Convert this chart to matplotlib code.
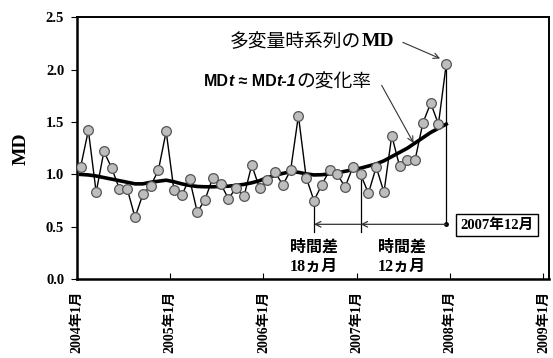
import matplotlib
matplotlib.use('Agg')
from matplotlib import pyplot as plt

#%% Data (monthly, 2004-01 .. 2007-12)
md = [1.07, 1.42, 0.83, 1.22, 1.06, 0.86, 0.86, 0.59, 0.81, 0.89, 1.04, 1.41,
      0.85, 0.80, 0.96, 0.64, 0.76, 0.97, 0.91, 0.77, 0.87, 0.79, 1.09, 0.87,
      0.95, 1.02, 0.90, 1.04, 1.56, 0.97, 0.75, 0.90, 1.04, 1.00, 0.88, 1.07,
      1.00, 0.82, 1.07, 0.83, 1.37, 1.08, 1.14, 1.14, 1.49, 1.68, 1.48, 2.05]
trend = [1.00, 0.995, 0.985, 0.97, 0.955, 0.94, 0.925, 0.91, 0.91, 0.925, 0.935, 0.945,
         0.93, 0.91, 0.895, 0.885, 0.882, 0.882, 0.885, 0.888, 0.895, 0.905, 0.92, 0.94,
         0.97, 0.99, 1.01, 1.025, 1.02, 1.005, 0.995, 0.997, 1.005, 1.015, 1.03, 1.045,
         1.06, 1.08, 1.10, 1.13, 1.17, 1.21, 1.25, 1.30, 1.35, 1.40, 1.44, 1.48]
xtick_labels = ['2004年1月', '2005年1月', '2006年1月', '2007年1月', '2008年1月', '2009年1月']
yticks = [0.0, 0.5, 1.0, 1.5, 2.0, 2.5]
lag_idx = [30, 36, 47]  # months marked with vertical lines

x = [i + 0.5 for i in range(len(md))]

serif_cjk = ['Liberation Serif', 'Noto Sans CJK JP']
cjk = ['Noto Sans CJK JP', 'DejaVu Sans']

#%% Plot
fig = plt.figure(figsize=(5.53, 3.58), dpi=100)
ax = fig.add_axes([0.1387, 0.22, 0.8546, 0.732])

ax.plot(x, trend, c='black', linewidth=2.6, zorder=2)
ax.plot(x, md, c='black', linewidth=1.0, marker='o', markersize=7,
        markerfacecolor='#bdbdbd', markeredgecolor='#555555', markeredgewidth=0.9, zorder=3)

# vertical lag markers and arrows
y_arrow = 0.524
y_low = 0.448
ax.plot([x[lag_idx[0]]] * 2, [md[lag_idx[0]], y_low], c='black', lw=0.9, zorder=1)
ax.plot([x[lag_idx[1]]] * 2, [md[lag_idx[1]], y_low], c='black', lw=0.9, zorder=1)
ax.plot([x[lag_idx[2]]] * 2, [md[lag_idx[2]], y_arrow], c='black', lw=0.9, zorder=1)
ax.plot(x[lag_idx[2]], y_arrow, marker='o', markersize=2.5, c='black')
ax.annotate('', xy=(x[lag_idx[1]], y_arrow), xytext=(x[lag_idx[2]], y_arrow),
            arrowprops=dict(arrowstyle='->', color='#333333', lw=0.9, shrinkA=0, shrinkB=0))
ax.annotate('', xy=(x[lag_idx[0]], y_arrow), xytext=(x[lag_idx[1]], y_arrow),
            arrowprops=dict(arrowstyle='->', color='#333333', lw=0.9, shrinkA=0, shrinkB=0))

# lag texts
for xc, lab in [(x[lag_idx[0]], '18'), ((x[lag_idx[1]] + x[lag_idx[2]]) / 2 - 0.2, '12')]:
    ax.text(xc, 0.31, '時間差', ha='center', va='center', fontsize=11.5,
            fontweight='bold', family=cjk)
    ax.text(xc, 0.12, lab + 'ヵ月', ha='center', va='center', fontsize=11.5,
            fontweight='bold', family=serif_cjk)

# box label
ax.text(54.0, 0.515, '2007年12月', ha='center', va='center', fontsize=10.5,
        fontweight='bold', family=serif_cjk,
        bbox=dict(boxstyle='square,pad=0.3', fc='white', ec='black', lw=1.0))

# annotation 1
t1 = ax.text(19.7, 2.27, '多変量時系列の', ha='left', va='center', fontsize=13.5, family=cjk)
t1b = ax.annotate('MD', xy=(1, 0.5), xycoords=t1, va='center', ha='left',
                  fontsize=14, fontweight='bold', family='Liberation Serif')
ax.annotate('', xy=(x[47] - 0.3, md[47] + 0.04), xytext=(41.6, 2.27),
            arrowprops=dict(arrowstyle='->', color='#333333', lw=0.8, shrinkA=2, shrinkB=3))

# annotation 2
yb = 1.885
fs2 = 11.5
p1 = ax.text(16.3, yb, 'MD', ha='left', va='center', fontsize=fs2, fontweight='bold', family='Liberation Sans')
p2 = ax.annotate('t', xy=(1, 0.5), xycoords=p1, va='center', ha='left', fontsize=fs2,
                 fontweight='bold', style='italic', family='Liberation Sans')
p3 = ax.annotate(' ≈ MD', xy=(1, 0.5), xycoords=p2, va='center', ha='left', fontsize=fs2,
                 fontweight='bold', family='Liberation Sans')
p4 = ax.annotate('t-1', xy=(1, 0.5), xycoords=p3, va='center', ha='left', fontsize=fs2,
                 fontweight='bold', style='italic', family='Liberation Sans')
p5 = ax.annotate('の変化率', xy=(1, 0.5), xycoords=p4, va='center', ha='left', fontsize=13.5,
                 family=cjk)
ax.annotate('', xy=(43.3, 1.30), xytext=(39.2, 1.85),
            arrowprops=dict(arrowstyle='->', color='#333333', lw=0.8, shrinkA=0, shrinkB=0))

#%% Axes style
ax.set_xlim(0, 60.75)
ax.set_ylim(0, 2.5)
ax.set_xticks([0, 12, 24, 36, 48, 60])
ax.set_xticklabels(xtick_labels, rotation=90, fontsize=10, fontweight='bold', family=serif_cjk)
ax.set_yticks(yticks)
ax.set_yticklabels(['%.1f' % v for v in yticks], fontsize=10.5, fontweight='bold',
                   family='Liberation Serif')
ax.tick_params(axis='x', direction='in', length=4, pad=8)
ax.tick_params(axis='y', direction='out', length=4, pad=5)
ax.set_ylabel('MD', fontsize=14, fontweight='bold', family='Liberation Serif', labelpad=12)
for side in ['left', 'bottom']:
    ax.spines[side].set_linewidth(1.8)
for side in ['top', 'right']:
    ax.spines[side].set_linewidth(1.4)

plt.savefig('out.png', dpi=100)
